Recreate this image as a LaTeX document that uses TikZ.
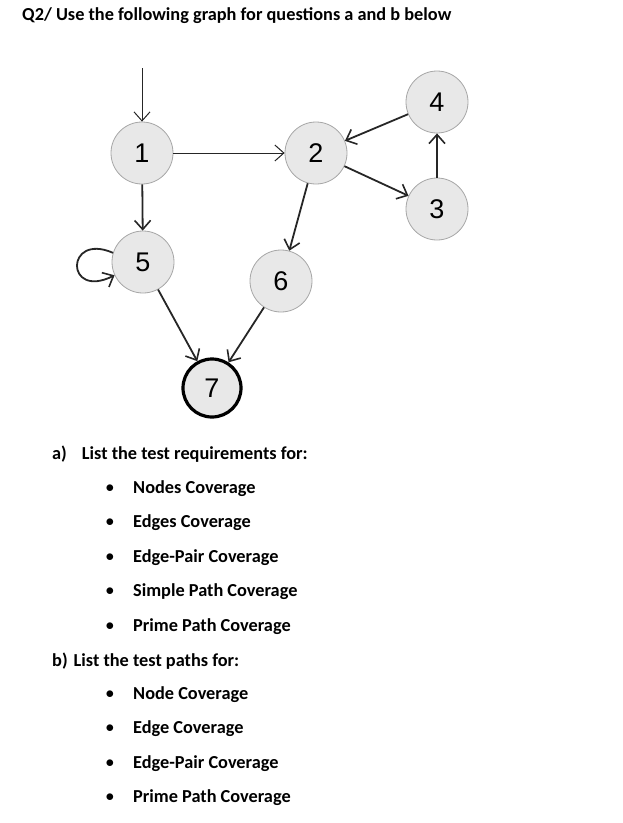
\documentclass[tikz,border=0pt]{standalone}
\usepackage{fontspec}
\setmainfont{Carlito}
\newfontfamily\arialf{Liberation Sans}
\usetikzlibrary{arrows.meta}
\begin{document}
\begin{tikzpicture}[x=1pt,y=-1pt,
  vtx/.style={circle,draw=gray!70,line width=0.8pt,fill=gray!18,minimum size=62pt,inner sep=0pt,font=\arialf\fontsize{27}{27}\selectfont},
  fin/.style={vtx,draw=black,line width=3.2pt,minimum size=58pt},
  edg/.style={draw=black!85,line width=1.8pt,-{Straight Barb[length=9pt,width=16pt,line width=1.6pt]}},
  thinedg/.style={edg,line width=1pt,-{Straight Barb[length=9pt,width=16pt,line width=1pt]}},
  txt/.style={anchor=west,inner sep=0pt,font=\bfseries\fontsize{18.3}{19}\selectfont},
  bul/.style={inner sep=0pt,font=\fontsize{17}{17}\selectfont}]
\useasboundingbox (0,0) rectangle (623,823);
\node[vtx] (n1) at (142,153) {1};
\node[vtx] (n2) at (316,153) {2};
\node[vtx] (n4) at (437,102) {4};
\node[vtx] (n3) at (437,209) {3};
\node[vtx] (n5) at (143,262) {5};
\node[vtx] (n6) at (281,281) {6};
\node[fin] (n7) at (212,388) {7};
\coordinate (s) at (142,68);
\draw[thinedg] (s) -- (n1);
\draw[thinedg] (n1) -- (n2);
\draw[edg] (n1) -- (n5);
\draw[edg] (n4) -- (n2);
\draw[edg] (n2) -- (n3);
\draw[edg] (n3) -- (n4);
\draw[edg] (n2) -- (n6);
\draw[edg] (n5) -- (n7);
\draw[edg] (n6) -- (n7);
\draw[edg] (n5.163) .. controls (65,232) and (65,300) .. (n5.205);
\node[txt] (t0) at (22,16) {Q2/ Use the following graph for questions a and b below};
\node[txt] (ta) at (52,454) {a)\hspace{15pt}List the test requirements for:};
\foreach \y/\s [count=\i] in {489/Nodes Coverage,523/Edges Coverage,558/Edge-Pair Coverage,592/Simple Path Coverage,627/Prime Path Coverage}{
  \node[bul] (ba\i) at (110,\y) {$\bullet$};
  \node[txt] (la\i) at (133,\y) {\s};}
\node[txt] (tb) at (52,661) {b)\hspace{6pt}List the test paths for:};
\foreach \y/\s [count=\i] in {695/Node Coverage,729/Edge Coverage,764/Edge-Pair Coverage,798/Prime Path Coverage}{
  \node[bul] (bb\i) at (110,\y) {$\bullet$};
  \node[txt] (lb\i) at (133,\y) {\s};}
\end{tikzpicture}
\end{document}
